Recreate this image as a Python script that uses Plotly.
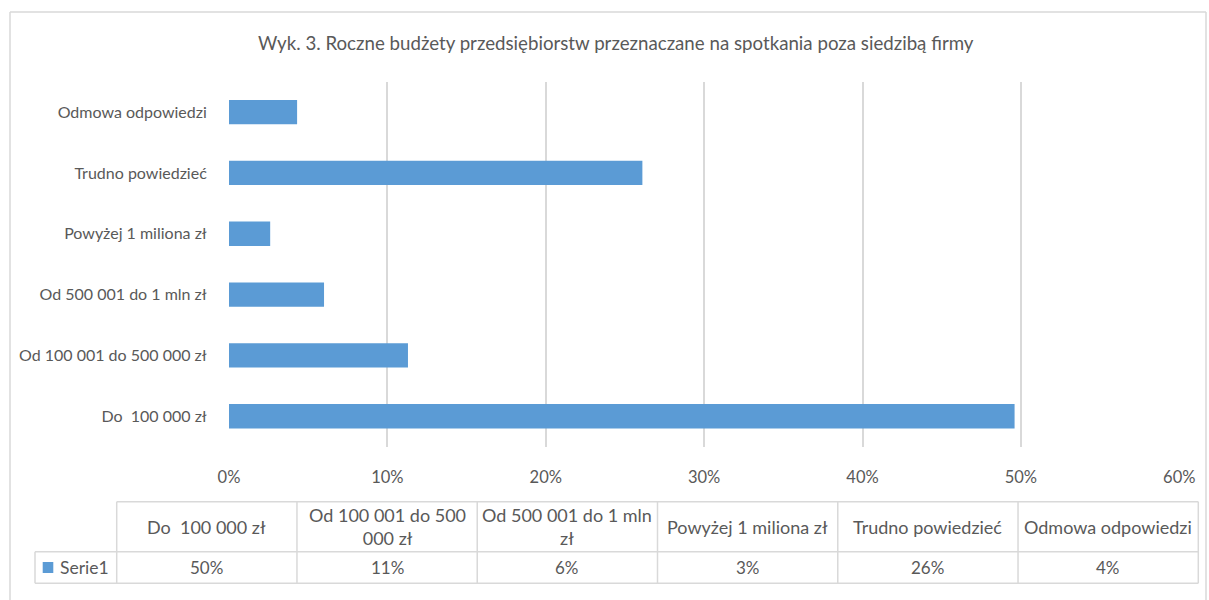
import plotly.graph_objects as go

W, H = 1209, 600

# ---- data ----
categories = ["Do\u00a0 100 000 zł", "Od 100 001 do 500 000 zł", "Od 500 001 do 1 mln zł",
              "Powyżej 1 miliona zł", "Trudno powiedzieć", "Odmowa odpowiedzi"]
values = [49.6, 11.3, 6.0, 2.6, 26.1, 4.3]
table_headers = ["Do\u00a0 100 000 zł", "Od 100 001 do 500<br>000 zł", "Od 500 001 do 1 mln<br>zł",
                 "Powyżej 1 miliona zł", "Trudno powiedzieć", "Odmowa odpowiedzi"]
series_name = "Serie1"
x_ticks = [0, 10, 20, 30, 40, 50, 60]
x_tick_labels = ["0%", "10%", "20%", "30%", "40%", "50%", "60%"]
title_text = "Wyk. 3. Roczne budżety przedsiębiorstw przeznaczane na spotkania poza siedzibą firmy"

BLUE = "#5B9BD5"
GRID = "#D9D9D9"
TXT = "#595959"
FONT = "Lato"


def px(x):
    return x / W


def py(y):
    return 1 - y / H


fig = go.Figure()
fig.add_trace(go.Bar(
    y=categories, x=values, orientation="h",
    marker=dict(color=BLUE, line=dict(width=0)),
    name=series_name, showlegend=False,
))

plot_left, plot_right = 229, 1179.3
plot_top, plot_bottom = 81.7, 446.7

fig.update_layout(
    template="none",
    width=W, height=H,
    margin=dict(l=0, r=0, t=0, b=0, pad=0),
    paper_bgcolor="white", plot_bgcolor="white",
    bargap=0.6,
    font=dict(family=FONT, color=TXT, size=16),
    xaxis=dict(
        domain=[px(plot_left), px(plot_right)], range=[0, 60],
        tickvals=x_ticks, ticktext=x_tick_labels,
        showgrid=True, gridcolor=GRID, gridwidth=1.5,
        zeroline=False, showline=False, automargin=False,
        ticks="outside", ticklen=15, tickcolor="rgba(0,0,0,0)",
        tickfont=dict(size=16.5, color=TXT, family=FONT),
        fixedrange=True,
    ),
    yaxis=dict(
        domain=[py(plot_bottom), py(plot_top)],
        categoryorder="array", categoryarray=categories,
        showgrid=False, zeroline=False, showline=False, automargin=False,
        ticks="outside", ticklen=18, tickcolor="rgba(0,0,0,0)",
        tickfont=dict(size=16, color=TXT, family=FONT),
        fixedrange=True,
    ),
)

shapes = []
annotations = []


def line(x0, y0, x1, y1):
    shapes.append(dict(type="line", xref="paper", yref="paper",
                       x0=px(x0), y0=py(y0), x1=px(x1), y1=py(y1),
                       line=dict(color=GRID, width=1.5)))


# outer chart border (bottom edge is outside the picture)
line(10, 12, 1206, 12)
line(10, 12, 10, 600)
line(1206, 12, 1206, 600)

# title
annotations.append(dict(text=title_text, xref="paper", yref="paper",
                        x=px(616), y=py(43), showarrow=False,
                        font=dict(size=18.7, color=TXT, family=FONT),
                        xanchor="center", yanchor="middle"))

# data table
t_left = 116.7
col_w = (1198.3 - t_left) / len(categories)
t_top, t_mid, t_bot = 501.7, 551.7, 583.3
leg_left = 35
t_right = t_left + col_w * len(categories)

line(t_left, t_top, t_right, t_top)
line(leg_left, t_mid, t_right, t_mid)
line(leg_left, t_bot, t_right, t_bot)
line(leg_left, t_mid, leg_left, t_bot)
for i in range(len(categories) + 1):
    xx = t_left + i * col_w
    line(xx, t_top, xx, t_bot)

for i, (hdr, v) in enumerate(zip(table_headers, values)):
    cx = t_left + (i + 0.5) * col_w
    annotations.append(dict(text=hdr, xref="paper", yref="paper", x=px(cx), y=py((t_top + t_mid) / 2),
                            showarrow=False, xanchor="center", yanchor="middle",
                            font=dict(size=18, color=TXT, family=FONT)))
    annotations.append(dict(text=f"{v:.0f}%", xref="paper", yref="paper", x=px(cx), y=py((t_mid + t_bot) / 2),
                            showarrow=False, xanchor="center", yanchor="middle",
                            font=dict(size=17, color=TXT, family=FONT)))

# legend key in table
shapes.append(dict(type="rect", xref="paper", yref="paper",
                   x0=px(42.7), x1=px(53.3), y0=py(573), y1=py(562),
                   fillcolor=BLUE, line=dict(width=0)))
annotations.append(dict(text=series_name, xref="paper", yref="paper", x=px(58), y=py((t_mid + t_bot) / 2),
                        showarrow=False, xanchor="left", yanchor="middle",
                        font=dict(size=17.5, color=TXT, family=FONT)))

fig.update_layout(shapes=shapes, annotations=annotations)
fig.write_html("out.html")
